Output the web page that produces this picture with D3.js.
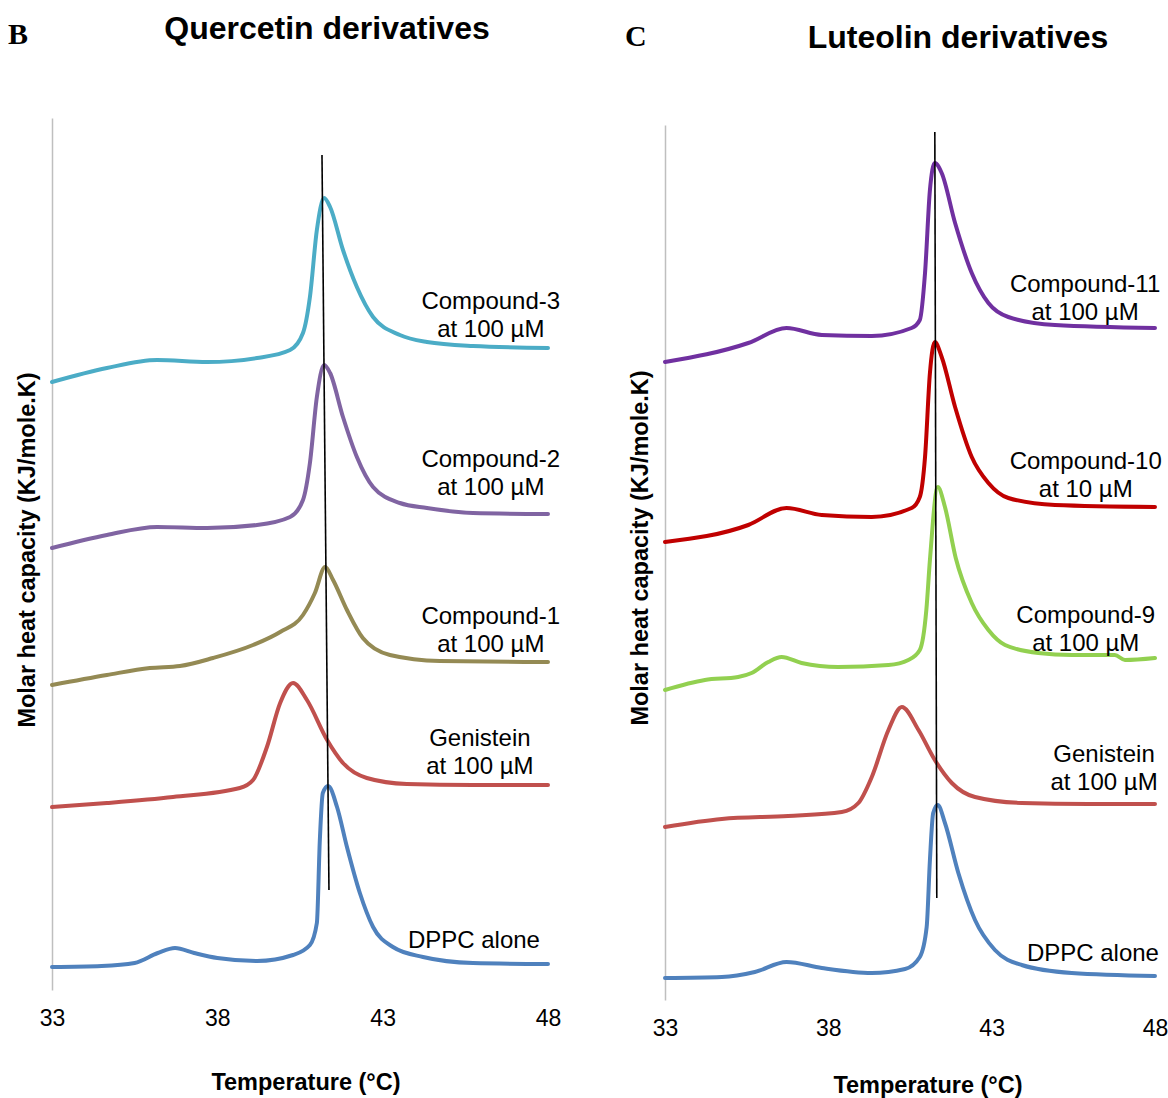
<!DOCTYPE html>
<html>
<head>
<meta charset="utf-8">
<script src="https://cdn.jsdelivr.net/npm/d3@7"></script>
<style>
  html, body { margin: 0; padding: 0; background: #fff; }
  svg { display: block; }
</style>
</head>
<body>
<svg id="chart" width="1168" height="1098"></svg>
<script>
// ---------- DATA (temperature °C, molar heat capacity in arbitrary stacked units) ----------
const xTicks = [33, 38, 43, 48];

// Panel B : Quercetin derivatives
const qDPPC = [[33,23],[34.5,24],[35.5,27],[36.2,37],[36.72,42],[37.3,37],[38,32],[39.2,29],[40.29,35],[40.8,45],[41.01,67],[41.1,150],[41.19,197],[41.35,204],[41.62,183],[41.92,143],[42.31,97],[42.71,63],[43.31,43],[44.22,33],[45.73,27],[48,26]];
const qGenistein = [[33,183],[34.66,187],[36.66,193],[38.68,202],[39.08,210],[39.5,243],[39.9,287],[40.29,307],[40.71,290],[41.32,250],[41.8,227],[42.52,212],[43.73,206],[45.73,205],[48,205]];
const qCompound1 = [[33,305],[34.66,315],[35.96,322],[36.87,324],[37.87,332],[39.08,345],[39.9,358],[40.59,375],[40.95,397],[41.26,423],[41.5,410],[41.92,380],[42.4,352],[43.22,335],[44.73,329],[48,328]];
const qCompound2 = [[33,442],[34.66,455],[36.18,463],[37.69,462],[39.2,465],[40.2,473],[40.59,490],[40.8,527],[41.01,593],[41.23,625],[41.41,617],[41.8,573],[42.22,533],[42.71,503],[43.52,487],[44.34,482],[45.73,477],[48,476]];
const qCompound3 = [[33,608],[34.66,622],[36.18,630],[37.69,628],[39.2,632],[40.2,640],[40.59,657],[40.8,693],[41.01,760],[41.23,792],[41.41,783],[41.8,740],[42.22,703],[42.71,673],[43.52,655],[44.34,648],[45.73,644],[48,642]];
const qRefLine = [[41.165,835],[41.376,100]];

// Panel C : Luteolin derivatives
const lDPPC = [[33,22],[34.74,23],[35.75,28],[36.72,38],[37.8,32],[39.33,27],[40.35,31],[40.8,43],[41.01,73],[41.11,140],[41.21,187],[41.35,195],[41.57,177],[41.98,127],[42.49,80],[43.1,50],[43.92,35],[45.45,27],[48,24]];
const lGenistein = [[33,173],[34.74,181],[36.77,184],[38.41,188],[38.92,197],[39.33,223],[39.84,270],[40.25,293],[40.76,270],[41.26,240],[41.78,217],[42.49,203],[43.92,197],[45.96,196],[48,196]];
const lCompound9 = [[33,310],[34.22,320],[35.24,323],[35.65,327],[36.16,338],[36.57,343],[37.18,337],[38.3,333],[39.84,335],[40.45,340],[40.8,350],[41.0,390],[41.11,440],[41.35,513],[41.57,493],[41.9,442],[42.39,397],[42.9,370],[43.41,355],[44.43,347],[45.45,345],[46.77,345],[47.08,340],[48,342]];
const lCompound10 = [[33,458],[35.55,475],[36.72,492],[37.8,485],[39.33,483],[40.55,492],[40.8,503],[40.96,543],[41.11,627],[41.26,658],[41.47,643],[41.88,593],[42.39,543],[42.9,517],[43.51,502],[44.94,495],[48,493]];
const lCompound11 = [[33,638],[35.55,657],[36.72,672],[37.8,665],[39.33,664],[40.55,672],[40.8,680],[40.96,727],[41.11,810],[41.26,837],[41.47,827],[41.88,777],[42.39,727],[42.9,697],[43.51,683],[44.94,675],[48,672]];
const lRefLine = [[41.26,868],[41.32,102]];

// Series labels: [lines, temperature anchor, value anchor of first baseline]
const qLabels = [
  [["Compound-3","at 100 µM"], 46.27, 681],
  [["Compound-2","at 100 µM"], 46.27, 523],
  [["Compound-1","at 100 µM"], 46.27, 366],
  [["Genistein","at 100 µM"], 45.94, 244],
  [["DPPC alone"], 45.76, 42]
];
const lLabels = [
  [["Compound-11","at 100 µM"], 45.86, 708],
  [["Compound-10","at 10 µM"], 45.88, 531],
  [["Compound-9","at 100 µM"], 45.88, 377],
  [["Genistein","at 100 µM"], 46.44, 238],
  [["DPPC alone"], 46.1, 39]
];

const qSeries = [
  { data: qCompound3, color: "#4bacc6" },
  { data: qCompound2, color: "#8064a2" },
  { data: qCompound1, color: "#948a54" },
  { data: qGenistein, color: "#c0504d" },
  { data: qDPPC,      color: "#4f81bd" }
];
const lSeries = [
  { data: lCompound11, color: "#7030a0" },
  { data: lCompound10, color: "#c00000" },
  { data: lCompound9,  color: "#92d050" },
  { data: lGenistein,  color: "#c0504d" },
  { data: lDPPC,       color: "#4f81bd" }
];

// ---------- DRAWING ----------
const svg = d3.select("#chart");
const sans = "'Liberation Sans', Arial, Helvetica, sans-serif";
const serif = "'Liberation Serif', 'Times New Roman', serif";

function panel(cfg) {
  const x = d3.scaleLinear().domain([33, 48]).range([cfg.x0, cfg.x1]);
  const y = d3.scaleLinear().domain([0, cfg.ymax]).range([cfg.yBottom, cfg.yTop]);
  const g = svg.append("g");

  g.append("text").attr("x", cfg.letterX).attr("y", cfg.letterY)
    .attr("font-family", serif).attr("font-weight", "bold").attr("font-size", 30)
    .text(cfg.letter);
  g.append("text").attr("x", cfg.titleX).attr("y", cfg.titleY)
    .attr("text-anchor", "middle")
    .attr("font-family", sans).attr("font-weight", "bold").attr("font-size", 32)
    .text(cfg.title);

  const ya = g.append("g").attr("transform", `translate(${cfg.x0},0)`)
    .call(d3.axisLeft(y).tickValues([]).tickSizeOuter(0));
  ya.select(".domain").attr("stroke", "#bfbfbf").attr("stroke-width", 1.5);

  const xa = g.append("g").attr("transform", `translate(0,${cfg.yBottom})`)
    .call(d3.axisBottom(x).tickValues(xTicks).tickSize(0).tickPadding(cfg.tickPad));
  xa.select(".domain").remove();
  xa.selectAll("text").attr("font-family", sans).attr("font-size", 23).attr("fill", "#000");

  g.append("text").attr("x", cfg.xTitleX).attr("y", cfg.xTitleY)
    .attr("text-anchor", "middle").attr("font-family", sans)
    .attr("font-weight", "bold").attr("font-size", 23.5)
    .text("Temperature (°C)");
  g.append("text")
    .attr("transform", `translate(${cfg.yTitleX},${cfg.yTitleY}) rotate(-90)`)
    .attr("text-anchor", "middle").attr("font-family", sans)
    .attr("font-weight", "bold").attr("font-size", 23.5)
    .text("Molar heat capacity (KJ/mole.K)");

  const line = d3.line().x(d => x(d[0])).y(d => y(d[1])).curve(d3.curveMonotoneX);
  cfg.series.forEach(s => {
    g.append("path").datum(s.data).attr("d", line)
      .attr("fill", "none").attr("stroke", s.color)
      .attr("stroke-width", 4).attr("stroke-linejoin", "round").attr("stroke-linecap", "round");
  });

  g.append("path").datum(cfg.ref)
    .attr("d", d3.line().x(d => x(d[0])).y(d => y(d[1])))
    .attr("stroke", "#000").attr("stroke-width", 1.6).attr("fill", "none");

  cfg.labels.forEach(([lines, t, v]) => {
    const txt = g.append("text").attr("text-anchor", "middle")
      .attr("font-family", sans).attr("font-size", 24).attr("fill", "#000");
    lines.forEach((ln, i) => {
      txt.append("tspan").attr("x", x(t)).attr("y", y(v) + i * 28).text(ln);
    });
  });
}

panel({
  x0: 52, x1: 548, yTop: 118, yBottom: 990, ymax: 872,
  letter: "B", letterX: 8, letterY: 44,
  title: "Quercetin derivatives", titleX: 327, titleY: 39,
  tickPad: 20, xTitleX: 306, xTitleY: 1090, yTitleX: 35, yTitleY: 550,
  series: qSeries, ref: qRefLine, labels: qLabels
});

panel({
  x0: 665, x1: 1155, yTop: 125, yBottom: 1000, ymax: 875,
  letter: "C", letterX: 625, letterY: 46,
  title: "Luteolin derivatives", titleX: 958, titleY: 48,
  tickPad: 20, xTitleX: 928, xTitleY: 1093, yTitleX: 648, yTitleY: 548,
  series: lSeries, ref: lRefLine, labels: lLabels
});
</script>
</body>
</html>
